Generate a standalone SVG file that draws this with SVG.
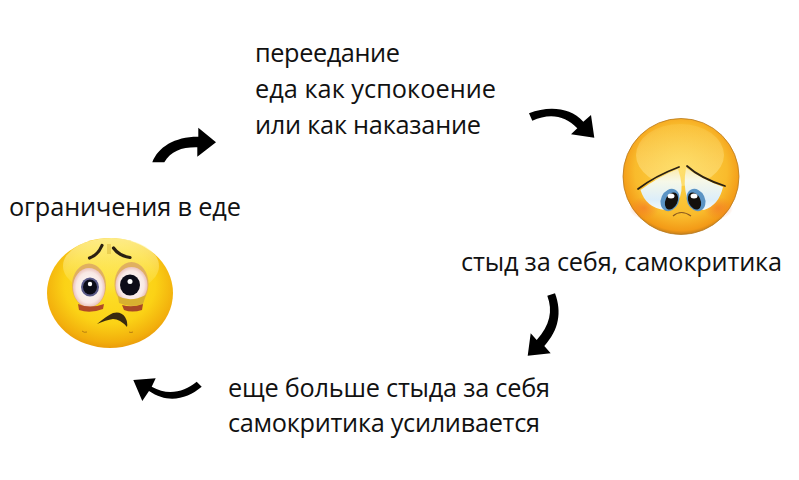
<svg xmlns="http://www.w3.org/2000/svg" width="799" height="480" viewBox="0 0 799 480">
<defs>
<style>
text{font-family:"Open Sans","Noto Sans","Liberation Sans",sans-serif;font-size:25.300px;fill:#111}
.arrow{fill:#000}
.brow{fill:none;stroke:#2a2012;stroke-linecap:round}
</style>
<radialGradient id="faceL" cx="0.5" cy="0.42" r="0.6">
<stop offset="0" stop-color="#fde02c"/><stop offset="0.6" stop-color="#fbd216"/><stop offset="0.88" stop-color="#f2ae0c"/><stop offset="1" stop-color="#e8960a"/>
</radialGradient>
<radialGradient id="faceR" cx="0.5" cy="0.45" r="0.55">
<stop offset="0" stop-color="#fdd64a"/><stop offset="0.72" stop-color="#f9bb2c"/><stop offset="0.94" stop-color="#f39a17"/><stop offset="1" stop-color="#c8801a"/>
</radialGradient>
<linearGradient id="shineL" x1="0" y1="0" x2="0" y2="1">
<stop offset="0" stop-color="#fff8b0" stop-opacity="0.75"/><stop offset="1" stop-color="#fff8a0" stop-opacity="0"/>
</linearGradient>
<linearGradient id="shineR" x1="0" y1="0" x2="0" y2="1">
<stop offset="0" stop-color="#fff0b0" stop-opacity="0.1"/><stop offset="1" stop-color="#ffe890" stop-opacity="0.55"/>
</linearGradient>
<radialGradient id="eyeL" cx="0.5" cy="0.5" r="0.55">
<stop offset="0" stop-color="#fff"/><stop offset="0.72" stop-color="#f8e8e4"/><stop offset="1" stop-color="#e4b0a8"/>
</radialGradient>
<linearGradient id="eyeR" x1="0" y1="0" x2="0" y2="1">
<stop offset="0" stop-color="#fcecb0"/><stop offset="0.3" stop-color="#f6f8e8"/><stop offset="0.75" stop-color="#dceefa"/><stop offset="1" stop-color="#f4fafc"/>
</linearGradient>
<radialGradient id="blush" cx="0.5" cy="0.5" r="0.5">
<stop offset="0" stop-color="#f4742a" stop-opacity="0.6"/><stop offset="1" stop-color="#f4742a" stop-opacity="0"/>
</radialGradient>
</defs>
<rect width="799" height="480" fill="#fff"/>

<g id="connectors">
<path class="arrow" d="M152.300 162.300C158 147 175 136.500 198.300 136.700L198.300 127.700L216 142.300L197.300 156.700L197.300 147.300C182 147 171 151 164.300 162.300Z"/>
<path class="arrow" d="M529 113.300C548 106 570 107 583.300 121.700L591 115L594.300 137.700L571 134.300L577.300 128.300C565 115 549 113 532.300 120.700Z"/>
<path class="arrow" d="M547.300 295.700L555 293.300C562 312 559 330 544.300 346L550.700 353.300L527.700 355.700L530.700 333.300L536.700 340C550 325 553 311 547.300 295.700Z"/>
<path class="arrow" d="M201.700 386.700C187 399 168 404 149 391L142.300 401L133.300 380L155.700 378.300L151.700 386.700C168 396 184 392 196.700 381.700Z"/>
</g>

<g id="node-restriction">
<text x="9" y="216" textLength="232">ограничения в еде</text>
<ellipse cx="110" cy="293" rx="63" ry="55" fill="url(#faceL)"/>
<ellipse cx="111" cy="266" rx="48" ry="28" fill="url(#shineL)"/>
<ellipse cx="89" cy="285.500" rx="17" ry="22" fill="#e0b060"/>
<ellipse cx="131.500" cy="284" rx="17" ry="22" fill="#e0b060"/>
<ellipse cx="89" cy="287.500" rx="16" ry="19.500" fill="url(#eyeL)"/>
<ellipse cx="131.500" cy="285" rx="16" ry="18" fill="url(#eyeL)"/>
<path d="M78 304Q90 309 104 304L103 309Q90 314 79 310Z" fill="#b04a28"/>
<path d="M118 296Q130 303 146 295L143 304Q130 308 119 303Z" fill="#d8b030"/>
<path d="M122 305Q132 308 143 304L142 310Q132 313 124 310Z" fill="#a84826"/>
<ellipse cx="90" cy="287" rx="9" ry="9.500" fill="#5a5a88"/>
<ellipse cx="90" cy="287" rx="7" ry="7.500" fill="#0c0c18"/>
<ellipse cx="130" cy="285" rx="10" ry="10.500" fill="#0c0c18"/>
<circle cx="90" cy="284" r="2.200" fill="#fff"/>
<circle cx="130" cy="281.500" r="2.500" fill="#fff"/>
<path class="brow" stroke-width="3.200" d="M89.500 258Q98 255 102 245.500"/>
<path class="brow" stroke-width="3.200" d="M113.500 248Q119 256 130 257.500"/>
<path d="M108 244V254M110 244V254" stroke="#c8a020" stroke-width="0.700" fill="none"/>
<path d="M97 324Q108 315 113 313Q121 311 125 317Q128 322 127 327Q120 319 113 319Q106 320 97 324Z" fill="#3a2a10"/>
<path d="M82 331Q84 333 87 332M129 332Q131 333 133 332" stroke="#a87010" stroke-width="0.800" fill="none"/>
</g>

<g id="node-shame">
<text x="461" y="271" textLength="321">стыд за себя, самокритика</text>
<circle cx="681" cy="176.500" r="58" fill="url(#faceR)" stroke="#b87a20" stroke-width="0.800"/>
<ellipse cx="680" cy="155" rx="44" ry="31" fill="url(#shineR)"/>
<ellipse cx="644" cy="208" rx="15" ry="11" fill="url(#blush)"/>
<ellipse cx="718" cy="208" rx="15" ry="11" fill="url(#blush)"/>
<path d="M640.500 190Q658 177 678 169Q684 186 680 197Q674 208 665 210Q646 208 640.500 190Z" fill="url(#eyeR)"/>
<path d="M686 168Q702 179 723 187Q719 205 704 210Q693 209 687 198Q683 184 686 168Z" fill="url(#eyeR)"/>
<ellipse cx="670" cy="200" rx="9" ry="11.500" transform="rotate(25 670 200)" fill="#5c94c4"/>
<ellipse cx="696" cy="200" rx="9" ry="11.500" transform="rotate(-25 696 200)" fill="#5c94c4"/>
<ellipse cx="671.500" cy="201" rx="6" ry="9" transform="rotate(25 671.500 201)" fill="#14100c"/>
<ellipse cx="694.500" cy="201" rx="6" ry="9" transform="rotate(-25 694.500 201)" fill="#14100c"/>
<ellipse cx="671" cy="196" rx="3.500" ry="2.500" fill="#fff"/>
<ellipse cx="694" cy="196" rx="3.500" ry="2.500" fill="#fff"/>
<path class="brow" stroke-width="1.800" d="M638 189Q655 176 679 167"/>
<path class="brow" stroke-width="1.800" d="M687 166Q700 178 725 186"/>
<path d="M673 216Q681 209 691 216" fill="none" stroke="#8a5a20" stroke-width="1.200"/>
</g>

<g id="node-overeating">
<text x="255" y="62" textLength="145">переедание</text>
<text x="255" y="98" textLength="241">еда как успокоение</text>
<text x="255" y="134" textLength="226">или как наказание</text>
</g>

<g id="node-more-shame">
<text x="228" y="397" textLength="322">еще больше стыда за себя</text>
<text x="228" y="432" textLength="312">самокритика усиливается</text>
</g>
</svg>
